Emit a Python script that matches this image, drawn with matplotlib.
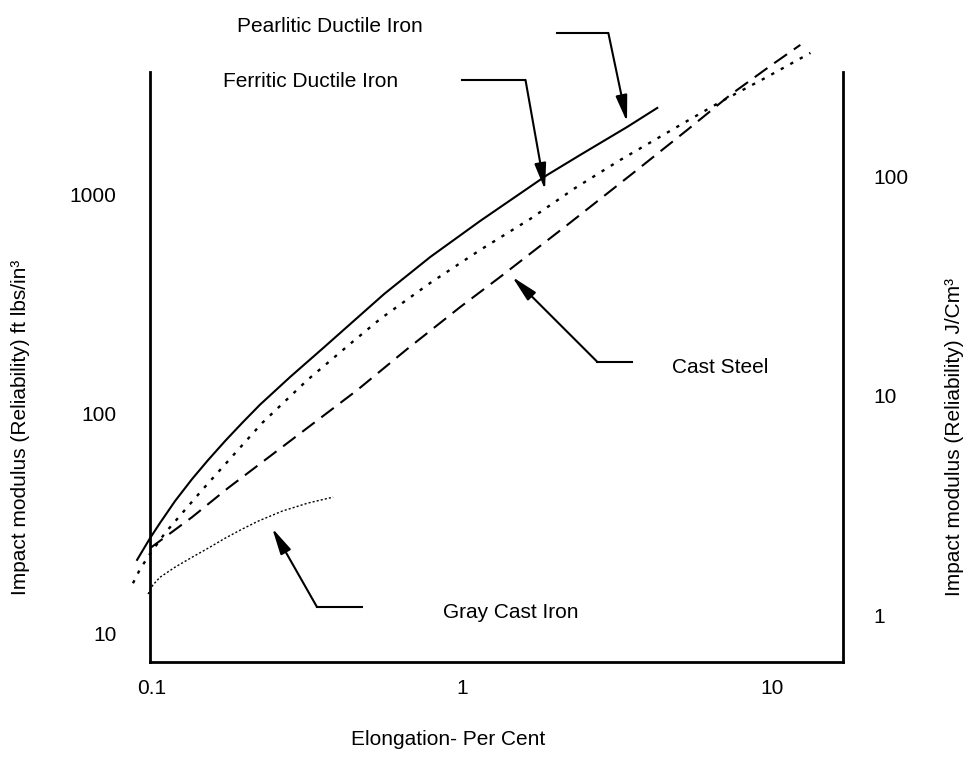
import matplotlib
matplotlib.use("Agg")
import matplotlib.pyplot as plt
from matplotlib.ticker import NullLocator, FixedLocator, FixedFormatter

plt.rcParams['font.family'] = ['Liberation Sans', 'DejaVu Sans']
FS = 15

# ---------- data ----------
pearl_x = [0.0895, 0.0985, 0.1061, 0.1186, 0.1346, 0.1516, 0.172, 0.1951, 0.223,
           0.2788, 0.3561, 0.5603, 0.7885, 1.143, 1.88, 2.403, 3.406, 4.256]
pearl_y = [21.6, 27.1, 31.8, 40.0, 50.4, 61.5, 75.1, 90.7, 110,
           147, 199, 351, 517, 755, 1223, 1509, 2024, 2470]

ferr_x = [0.0868, 0.0915, 0.0985, 0.1101, 0.145, 0.2264, 0.3162, 0.4352, 0.5439,
          0.7885, 1.143, 1.657, 2.315, 3.234, 5.318, 6.797, 9.493, 13.27]
ferr_y = [16.9, 19.6, 23.0, 28.6, 44.9, 90.7, 142, 208, 270,
          394, 557, 771, 1067, 1431, 2155, 2630, 3384, 4398]

steel_x = [0.0985, 0.1346, 0.1759, 0.2627, 0.4584, 0.6645, 0.9853, 1.3267,
           2.182, 3.561, 5.318, 7.317, 9.853, 12.31]
steel_y = [24.4, 33.8, 45.9, 70.5, 128, 197, 306, 420,
           724, 1249, 1961, 2831, 3838, 4783]

gray_x = [0.0971, 0.1007, 0.1061, 0.1186, 0.1346, 0.1516, 0.172, 0.1951,
          0.2197, 0.2627, 0.3186, 0.3837]
gray_y = [15.1, 16.6, 18.0, 20.0, 22.2, 24.4, 27.1, 29.8,
          32.4, 36.0, 39.2, 41.7]

# callouts: label, label position, leader end, elbow, arrow tip
labels = ["Pearlitic Ductile Iron", "Ferritic Ductile Iron", "Cast Steel", "Gray Cast Iron"]
label_pos = [(0.188, 5780), (0.169, 3243), (4.75, 163), (0.868, 12.5)]
lead_end = [(2.02, 5420), (1.0, 3313), (3.53, 172), (0.476, 13.2)]
lead_elbow = [(2.96, 5420), (1.60, 3313), (2.73, 172), (0.340, 13.2)]
lead_tip = [(3.40, 2133), (1.85, 1045), (1.45, 420), (0.244, 30.1)]

x_ticks = [0.1, 1, 10]
x_ticklabels = ["0.1", "1", "10"]
y_ticks = [10, 100, 1000]
y_ticklabels = ["10", "100", "1000"]
y2_ticks = [1, 10, 100]
y2_ticklabels = ["1", "10", "100"]
K = 0.0827  # ft lbs/in^3 -> J/cm^3

# ---------- figure ----------
fig = plt.figure(figsize=(9.73, 7.6), dpi=100)
ax = fig.add_axes([150/973, 98/760, 693/973, 590/760])
ax.set_xscale("log"); ax.set_yscale("log")
ax.set_xlim(0.0985, 16.9)
ax.set_ylim(7.4, 3600)

ax.plot(pearl_x, pearl_y, color="black", lw=1.5, clip_on=False)
ax.plot(ferr_x, ferr_y, color="black", lw=1.7, ls=(0, (1.4, 3.2)), clip_on=False)
ax.plot(steel_x, steel_y, color="black", lw=1.5, ls=(0, (7.5, 4)), clip_on=False)
ax.plot(gray_x, gray_y, color="black", lw=1.0, ls=(0, (1.5, 1.5)), clip_on=False)

for lab, lp, le, lb, lt in zip(labels, label_pos, lead_end, lead_elbow, lead_tip):
    ax.text(lp[0], lp[1], lab, fontsize=FS, ha="left", va="center", clip_on=False)
    ax.plot([le[0], lb[0]], [le[1], lb[1]], color="black", lw=1.5, clip_on=False)
    ax.annotate("", xy=lt, xytext=lb, annotation_clip=False,
                arrowprops=dict(arrowstyle="-|>,head_length=1.6,head_width=0.35",
                                mutation_scale=10, color="black", lw=1.5,
                                shrinkA=0, shrinkB=0))

# axes styling
for s in ["left", "bottom"]:
    ax.spines[s].set_linewidth(2)
ax.spines["top"].set_visible(False)
ax.spines["right"].set_visible(False)

ax.xaxis.set_major_locator(FixedLocator(x_ticks))
ax.xaxis.set_major_formatter(FixedFormatter(x_ticklabels))
ax.xaxis.set_minor_locator(NullLocator())
ax.yaxis.set_major_locator(FixedLocator(y_ticks))
ax.yaxis.set_major_formatter(FixedFormatter(y_ticklabels))
ax.yaxis.set_minor_locator(NullLocator())
ax.tick_params(axis="x", length=0, pad=12, labelsize=FS)
ax.tick_params(axis="y", length=0, pad=24, labelsize=FS)

ax.set_xlabel("Elongation- Per Cent", fontsize=FS)
ax.xaxis.set_label_coords(0.43, -0.115)
ax.set_ylabel("Impact modulus (Reliability) ft lbs/in³", fontsize=FS)
ax.yaxis.set_label_coords(-0.173, 0.397)

sec = ax.secondary_yaxis("right", functions=(lambda v: v * K, lambda v: v / K))
sec.spines["right"].set_linewidth(2)
sec.yaxis.set_major_locator(FixedLocator(y2_ticks))
sec.yaxis.set_major_formatter(FixedFormatter(y2_ticklabels))
sec.yaxis.set_minor_locator(NullLocator())
sec.tick_params(axis="y", which="both", length=0, pad=22, labelsize=FS)
sec.set_ylabel("Impact modulus (Reliability) J/Cm³", fontsize=FS)
sec.yaxis.set_label_coords(1.147, 0.382, transform=ax.transAxes)

fig.savefig("out.png", dpi=100)
